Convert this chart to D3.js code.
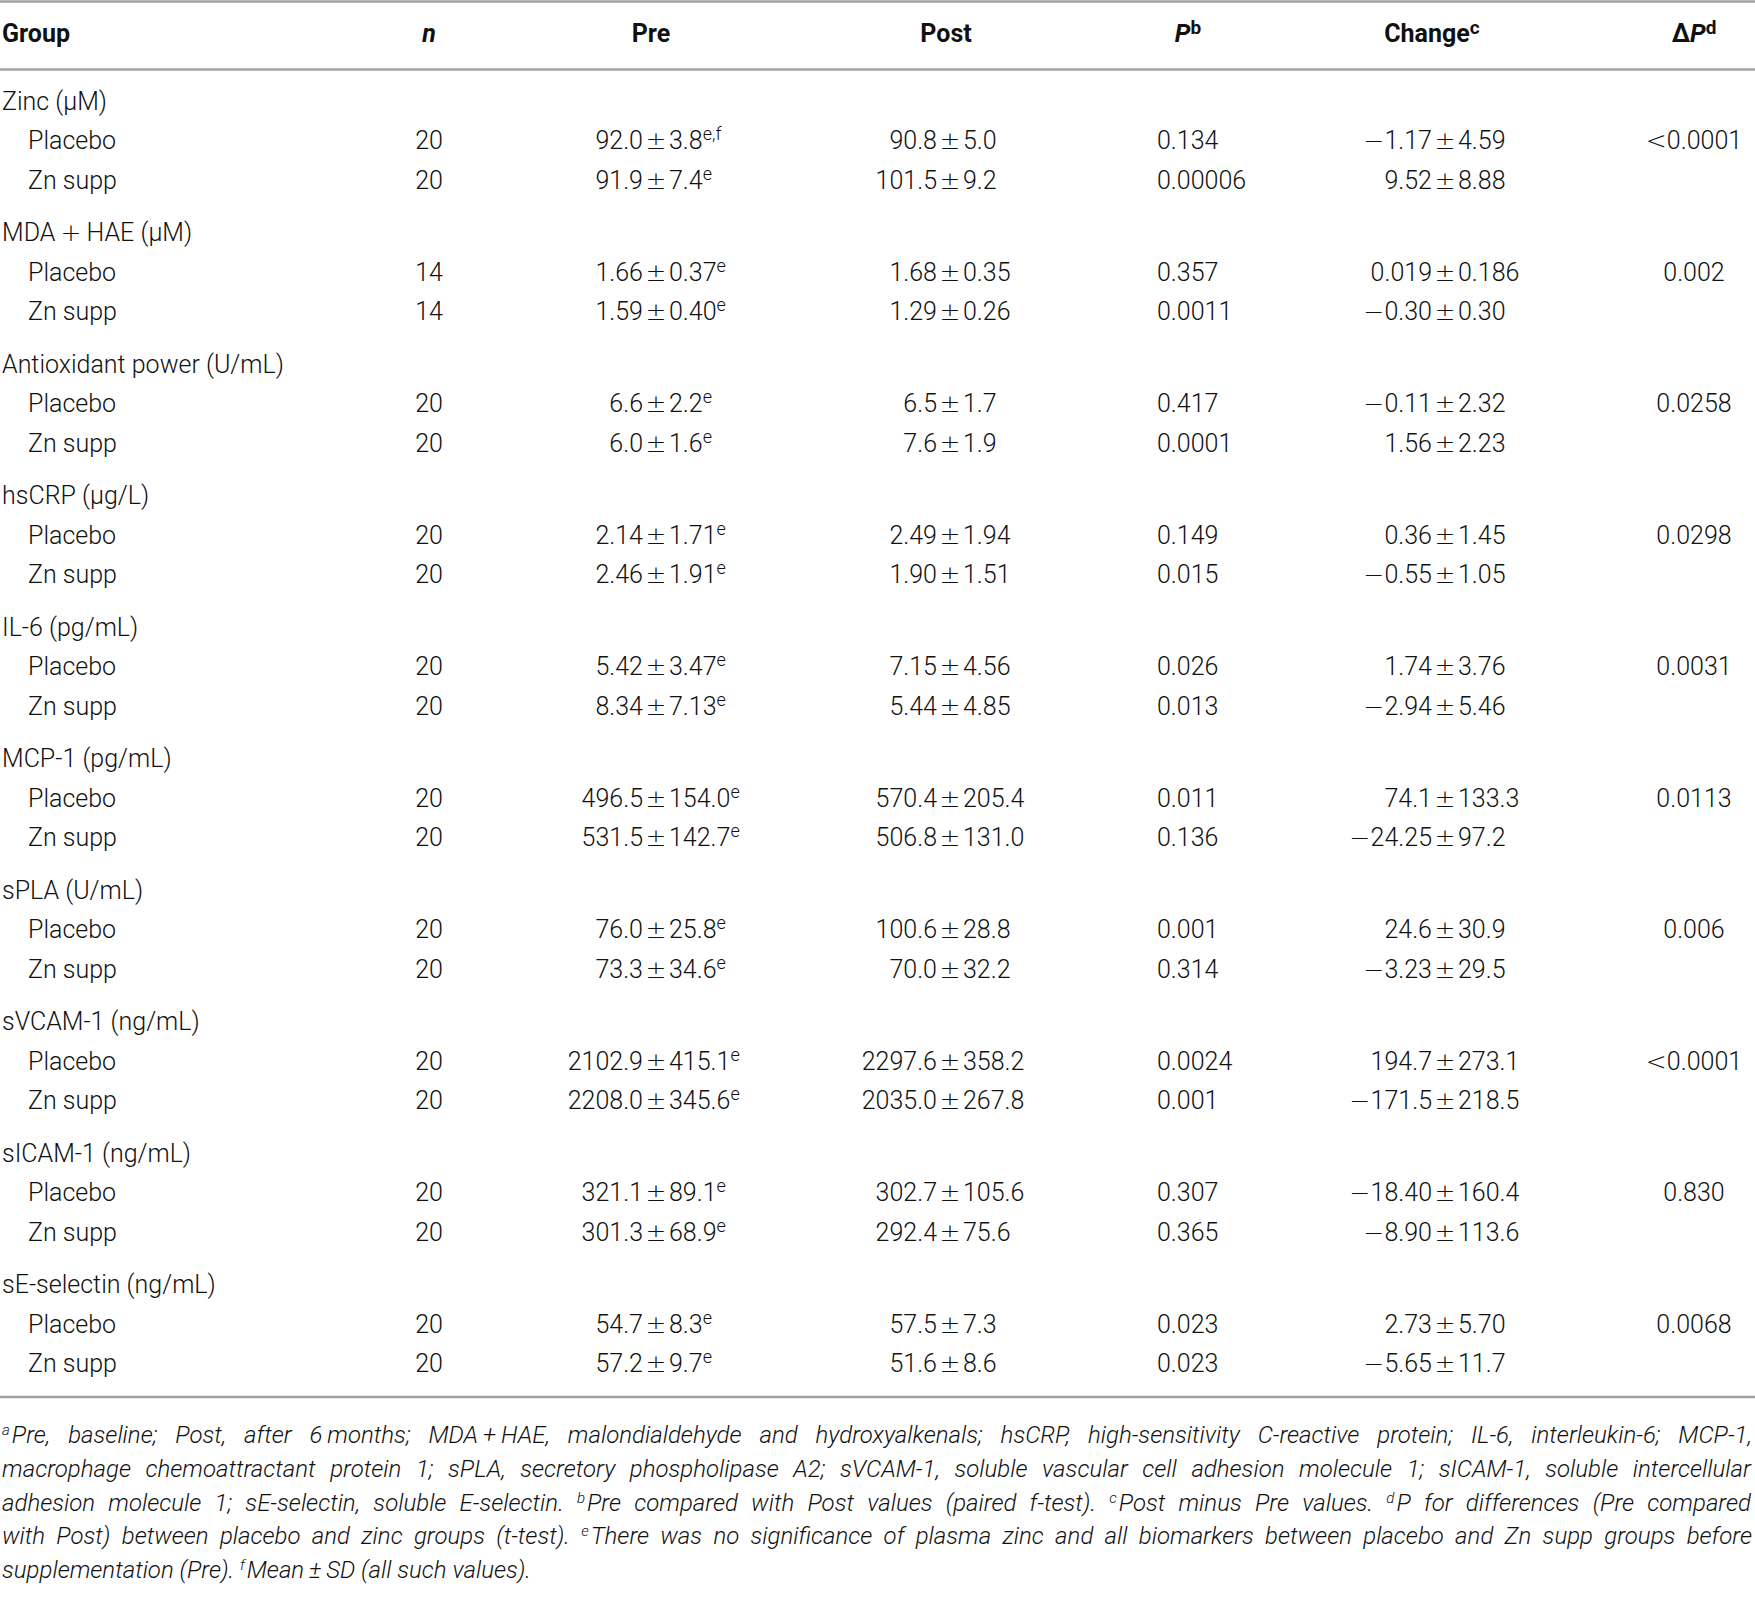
<!DOCTYPE html>
<html><head><meta charset="utf-8">
<script src="https://cdn.jsdelivr.net/npm/d3@7"></script>
<style>
body{margin:0;background:#fff}
svg{display:block}
text{font-family:Roboto,"Liberation Sans",Arial,sans-serif;fill:#111;}
.body{font-size:25px;font-weight:300}
.hdr{font-size:25px;font-weight:700}
.sym{font-family:"DejaVu Sans",sans-serif;font-weight:200}
.pm{font-family:"DejaVu Sans",sans-serif;font-weight:200;font-size:25px}
.foot{font-size:24px;font-weight:300;font-style:italic}
</style>
</head><body><svg id="c" width="1755" height="1599"></svg>
<script>
// ---------- data ----------
const headers = ["Group","n","Pre","Post","P","Change","ΔP"];
const headerSup = ["","","","","b","c","d"];
const groupLabels = ["Zinc (μM)","MDA\u2009+\u2009HAE (μM)","Antioxidant power (U/mL)","hsCRP (μg/L)","IL-6 (pg/mL)","MCP-1 (pg/mL)","sPLA (U/mL)","sVCAM-1 (ng/mL)","sICAM-1 (ng/mL)","sE-selectin (ng/mL)"];
const subLabels = ["Placebo","Zn supp"];
const nPlacebo = [20,14,20,20,20,20,20,20,20,20];
const nZn = [20,14,20,20,20,20,20,20,20,20];
const prePlacebo = ["92.0 ± 3.8","1.66 ± 0.37","6.6 ± 2.2","2.14 ± 1.71","5.42 ± 3.47","496.5 ± 154.0","76.0 ± 25.8","2102.9 ± 415.1","321.1 ± 89.1","54.7 ± 8.3"];
const preZn = ["91.9 ± 7.4","1.59 ± 0.40","6.0 ± 1.6","2.46 ± 1.91","8.34 ± 7.13","531.5 ± 142.7","73.3 ± 34.6","2208.0 ± 345.6","301.3 ± 68.9","57.2 ± 9.7"];
const preSupPlacebo = ["e,f","e","e","e","e","e","e","e","e","e"];
const preSupZn = ["e","e","e","e","e","e","e","e","e","e"];
const postPlacebo = ["90.8 ± 5.0","1.68 ± 0.35","6.5 ± 1.7","2.49 ± 1.94","7.15 ± 4.56","570.4 ± 205.4","100.6 ± 28.8","2297.6 ± 358.2","302.7 ± 105.6","57.5 ± 7.3"];
const postZn = ["101.5 ± 9.2","1.29 ± 0.26","7.6 ± 1.9","1.90 ± 1.51","5.44 ± 4.85","506.8 ± 131.0","70.0 ± 32.2","2035.0 ± 267.8","292.4 ± 75.6","51.6 ± 8.6"];
const pPlacebo = ["0.134","0.357","0.417","0.149","0.026","0.011","0.001","0.0024","0.307","0.023"];
const pZn = ["0.00006","0.0011","0.0001","0.015","0.013","0.136","0.314","0.001","0.365","0.023"];
const changePlacebo = ["−1.17 ± 4.59","0.019 ± 0.186","−0.11 ± 2.32","0.36 ± 1.45","1.74 ± 3.76","74.1 ± 133.3","24.6 ± 30.9","194.7 ± 273.1","−18.40 ± 160.4","2.73 ± 5.70"];
const changeZn = ["9.52 ± 8.88","−0.30 ± 0.30","1.56 ± 2.23","−0.55 ± 1.05","−2.94 ± 5.46","−24.25 ± 97.2","−3.23 ± 29.5","−171.5 ± 218.5","−8.90 ± 113.6","−5.65 ± 11.7"];
const deltaP = ["<0.0001","0.002","0.0258","0.0298","0.0031","0.0113","0.006","<0.0001","0.830","0.0068"];
const footLines = [
  [["a",1],["Pre, baseline; Post, after 6\u2009months; MDA\u2009+\u2009HAE, malondialdehyde and hydroxyalkenals; hsCRP, high-sensitivity C-reactive protein; IL-6, interleukin-6; MCP-1,",0]],
  [["macrophage chemoattractant protein 1; sPLA, secretory phospholipase A2; sVCAM-1, soluble vascular cell adhesion molecule 1; sICAM-1, soluble intercellular",0]],
  [["adhesion molecule 1; sE-selectin, soluble E-selectin. ",0],["b",1],["Pre compared with Post values (paired f-test). ",0],["c",1],["Post minus Pre values. ",0],["d",1],["P for differences (Pre compared",0]],
  [["with Post) between placebo and zinc groups (t-test). ",0],["e",1],["There was no significance of plasma zinc and all biomarkers between placebo and Zn supp groups before",0]],
  [["supplementation (Pre). ",0],["f",1],["Mean\u2009±\u2009SD (all such values).",0]]
];

// ---------- layout ----------
const W = 1755, H = 1599;
const svg = d3.select("#c");
const colX = d3.scaleOrdinal()
  .domain(["group","sub","n","pre","post","p","change","dp"])
  .range([2, 28, 429, 656, 950, 1157, 1445, 1694]);
const hdrX = d3.scaleOrdinal().domain(headers).range([2, 429, 651, 946, 1188, 1432, 1694]);
const nG = groupLabels.length;
const yGroup = d3.scaleLinear().domain([0, nG - 1]).range([100.7, 100.7 + (nG - 1) * 131.5]);
const rowStep = 39.5;
const base = 9; // baseline offset from row centre

// put a string into a text element, drawing the maths symbols with a wider glyph font
function fill(t, s) {
  const parts = s.split(/([−<+±])/);
  parts.forEach(p => {
    if (!p) return;
    const ts = t.append("tspan").text(p);
    if (/^[−<+±]$/.test(p)) ts.attr("class", "sym");
  });
  return t;
}

// rules
const rules = [1.5, 69.5, 1397];
svg.selectAll("line.rule").data(rules).enter().append("line")
  .attr("x1", 0).attr("x2", W).attr("y1", d => d).attr("y2", d => d)
  .attr("stroke", "#a3a3a3").attr("stroke-width", 2.5);

// header
const hy = 32.5 + base;
headers.forEach((h, i) => {
  const t = svg.append("text").attr("class", "hdr").attr("y", hy)
    .attr("x", hdrX(h)).attr("text-anchor", i === 0 ? "start" : "middle");
  if (h === "n") t.append("tspan").attr("font-style", "italic").text("n");
  else if (h === "P") t.append("tspan").attr("font-style", "italic").text("P");
  else if (h === "ΔP") { t.append("tspan").text("Δ"); t.append("tspan").attr("font-style", "italic").text("P"); }
  else t.text(h);
  if (headerSup[i]) t.append("tspan").attr("dy", -8).attr("font-size", 19).text(headerSup[i]);
});

function pmCell(x, y, str, sup) {
  const [a, b] = str.split(" ± ");
  fill(svg.append("text").attr("class", "body").attr("x", x - 13).attr("y", y).attr("text-anchor", "end"), a);
  svg.append("text").attr("class", "pm").attr("x", x).attr("y", y).attr("text-anchor", "middle").text("±");
  const t = svg.append("text").attr("class", "body").attr("x", x + 13).attr("y", y).text(b);
  if (sup) t.append("tspan").attr("dy", -9).attr("font-size", 18).text(sup);
}

groupLabels.forEach((g, i) => {
  const y0 = yGroup(i);
  fill(svg.append("text").attr("class", "body").attr("x", colX("group")).attr("y", y0 + base), g);
  const rows = [
    {lab: subLabels[0], n: nPlacebo[i], pre: prePlacebo[i], ps: preSupPlacebo[i], post: postPlacebo[i], p: pPlacebo[i], ch: changePlacebo[i], dp: deltaP[i]},
    {lab: subLabels[1], n: nZn[i], pre: preZn[i], ps: preSupZn[i], post: postZn[i], p: pZn[i], ch: changeZn[i], dp: null}
  ];
  rows.forEach((r, k) => {
    const y = y0 + (k + 1) * rowStep + base;
    svg.append("text").attr("class", "body").attr("x", colX("sub")).attr("y", y).text(r.lab);
    svg.append("text").attr("class", "body").attr("x", colX("n")).attr("y", y).attr("text-anchor", "middle").text(r.n);
    pmCell(colX("pre"), y, r.pre, r.ps);
    pmCell(colX("post"), y, r.post, null);
    svg.append("text").attr("class", "body").attr("x", colX("p")).attr("y", y).text(r.p);
    pmCell(colX("change"), y, r.ch, null);
    if (r.dp) fill(svg.append("text").attr("class", "body").attr("x", colX("dp")).attr("y", y).attr("text-anchor", "middle"), r.dp);
  });
});

// footnotes
const footY = d3.scaleLinear().domain([0, footLines.length - 1]).range([1435 + 8, 1570 + 8]);
const footRight = 1752;
footLines.forEach((segs, i) => {
  const t = svg.append("text").attr("class", "foot").attr("x", 2).attr("y", footY(i));
  let prevSup = 0;
  segs.forEach(([s, sup]) => {
    const ts = t.append("tspan").text(s);
    if (sup) { ts.attr("dy", -8).attr("font-size", 15); }
    else if (prevSup) { ts.attr("dy", 8).attr("dx", 2); }
    prevSup = sup;
  });
  if (i < footLines.length - 1) {
    const full = segs.map(d => d[0]).join("");
    const spaces = (full.match(/ /g) || []).length;
    let ws = 0;
    for (let it = 0; it < 4; it++) {
      const bb = t.node().getBBox();
      ws += (footRight - (bb.x + bb.width)) / spaces;
      t.attr("word-spacing", ws);
    }
  }
});
</script>
</body></html>
